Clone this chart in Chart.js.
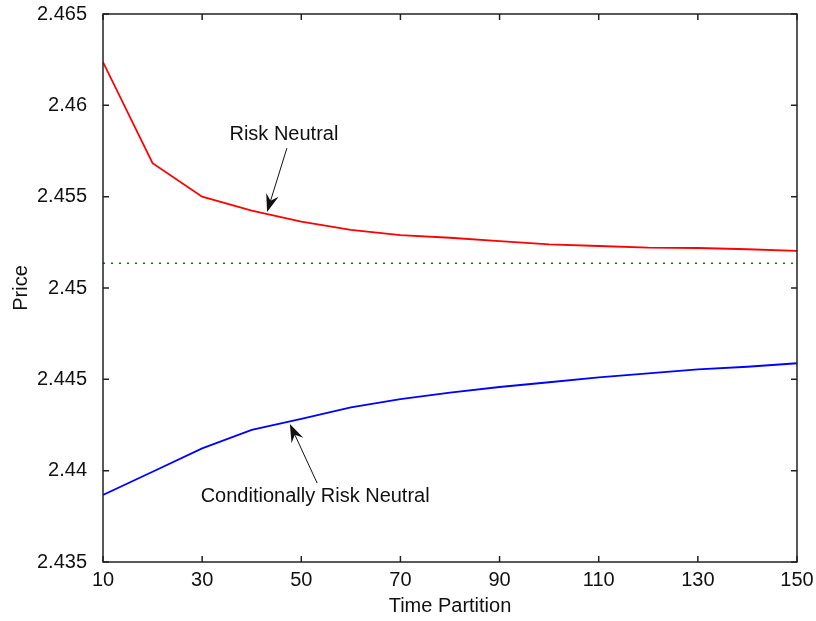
<!DOCTYPE html>
<html>
<head>
<meta charset="utf-8">
<script src="https://cdn.jsdelivr.net/npm/chart.js@4.4.1/dist/chart.umd.min.js"></script>
<style>
  html, body { margin: 0; padding: 0; background: #fff; }
  #box { width: 816px; height: 621px; }
</style>
</head>
<body>
<div id="box"><canvas id="grafico" width="816" height="621"></canvas></div>
<script>
// valores
const particiones = [10, 20, 30, 40, 50, 60, 70, 80, 90, 100, 110, 120, 130, 140, 150];
const riesgoNeutral = [2.46237, 2.45683, 2.45500, 2.45423, 2.45363, 2.45318, 2.45290, 2.45275,
  2.45257, 2.45239, 2.45230, 2.45221, 2.45219, 2.45212, 2.45203];
const condNeutral = [2.43867, 2.43994, 2.44122, 2.44223, 2.44284, 2.44347, 2.44392, 2.44427,
  2.44458, 2.44484, 2.44511, 2.44533, 2.44555, 2.44569, 2.44588];
const precioReferencia = [2.45135, 2.45135];
const xReferencia = [10, 150];

const ticksX = [10, 30, 50, 70, 90, 110, 130, 150];
const ticksY = [2.435, 2.44, 2.445, 2.45, 2.455, 2.46, 2.465];

// anotaciones: texto y flecha en coordenadas de datos
const anotaciones = [
  { texto: "Risk Neutral", tx: 46.5, ty: 2.45838, desde: [47.1, 2.45766], hasta: [43.1, 2.45416] },
  { texto: "Conditionally Risk Neutral", tx: 52.8, ty: 2.43861, desde: [53.2, 2.43932], hasta: [47.7, 2.44255] }
];

const fuente = "'Liberation Sans', Arial, sans-serif";

function flecha(ctx, x1, y1, x2, y2) {
  const ang = Math.atan2(y2 - y1, x2 - x1);
  const largo = 18, ancho = 6.5;
  ctx.beginPath();
  ctx.moveTo(x1, y1);
  ctx.lineTo(x2 - Math.cos(ang) * 10, y2 - Math.sin(ang) * 10);
  ctx.stroke();
  const bx = x2 - Math.cos(ang) * largo, by = y2 - Math.sin(ang) * largo;
  const mx = x2 - Math.cos(ang) * largo * 0.65, my = y2 - Math.sin(ang) * largo * 0.65;
  ctx.beginPath();
  ctx.moveTo(x2, y2);
  ctx.lineTo(bx - Math.sin(ang) * ancho, by + Math.cos(ang) * ancho);
  ctx.lineTo(mx, my);
  ctx.lineTo(bx + Math.sin(ang) * ancho, by - Math.cos(ang) * ancho);
  ctx.closePath();
  ctx.fill();
}

const marcoPlugin = {
  id: "marco",
  afterDraw(chart) {
    const ctx = chart.ctx;
    const a = chart.chartArea;
    const sx = chart.scales.x, sy = chart.scales.y;
    ctx.save();
    ctx.strokeStyle = "#222";
    ctx.lineWidth = 1.5;
    ctx.strokeRect(a.left, a.top, a.right - a.left, a.bottom - a.top);
    ctx.beginPath();
    ticksX.forEach((v) => {
      const px = sx.getPixelForValue(v);
      ctx.moveTo(px, a.bottom); ctx.lineTo(px, a.bottom - 6);
      ctx.moveTo(px, a.top); ctx.lineTo(px, a.top + 6);
    });
    ticksY.forEach((v) => {
      const py = sy.getPixelForValue(v);
      ctx.moveTo(a.left, py); ctx.lineTo(a.left + 6, py);
      ctx.moveTo(a.right, py); ctx.lineTo(a.right - 6, py);
    });
    ctx.stroke();

    ctx.fillStyle = "#111";
    ctx.strokeStyle = "#111";
    ctx.lineWidth = 1;
    ctx.font = "20px " + fuente;
    ctx.textAlign = "center";
    ctx.textBaseline = "middle";
    anotaciones.forEach((n) => {
      ctx.fillText(n.texto, sx.getPixelForValue(n.tx), sy.getPixelForValue(n.ty));
      flecha(ctx,
        sx.getPixelForValue(n.desde[0]), sy.getPixelForValue(n.desde[1]),
        sx.getPixelForValue(n.hasta[0]), sy.getPixelForValue(n.hasta[1]));
    });
    ctx.restore();
  }
};

const aPuntos = (xs, ys) => xs.map((x, i) => ({ x: x, y: ys[i] }));

new Chart(document.querySelector("#grafico"), {
  type: "line",
  data: {
    datasets: [
      {
        label: "Risk Neutral",
        data: aPuntos(particiones, riesgoNeutral),
        borderColor: "#ff0000",
        borderWidth: 1.8,
        pointRadius: 0,
        tension: 0
      },
      {
        label: "Conditionally Risk Neutral",
        data: aPuntos(particiones, condNeutral),
        borderColor: "#0000ff",
        borderWidth: 1.8,
        pointRadius: 0,
        tension: 0
      },
      {
        label: "Referencia",
        data: aPuntos(xReferencia, precioReferencia),
        borderColor: "#008000",
        borderWidth: 1.5,
        borderDash: [2, 6],
        pointRadius: 0
      }
    ]
  },
  options: {
    responsive: false,
    animation: false,
    layout: { padding: { top: 14, right: 19, left: 0, bottom: 0 } },
    plugins: { legend: { display: false }, tooltip: { enabled: false } },
    scales: {
      x: {
        type: "linear",
        min: 10,
        max: 150,
        afterFit(s) { s.height = 59; s.paddingLeft = 0; s.paddingRight = 0; },
        afterBuildTicks(s) { s.ticks = ticksX.map((v) => ({ value: v })); },
        grid: { display: false },
        border: { display: false },
        ticks: { color: "#111", padding: -2, maxRotation: 0, font: { size: 20, family: fuente } },
        title: { display: true, text: "Time Partition", color: "#111", padding: { top: 0, bottom: 3 }, font: { size: 20, family: fuente } }
      },
      y: {
        type: "linear",
        min: 2.435,
        max: 2.465,
        afterFit(s) { s.width = 103; s.paddingTop = 0; s.paddingBottom = 0; },
        afterBuildTicks(s) { s.ticks = ticksY.map((v) => ({ value: v })); },
        grid: { display: false },
        border: { display: false },
        ticks: {
          color: "#111",
          padding: 8,
          font: { size: 20, family: fuente },
          callback: (v) => String(Number(v.toFixed(3)))
        },
        title: { display: true, text: "Price", color: "#111", padding: { top: 9, bottom: 0 }, font: { size: 20, family: fuente } }
      }
    }
  },
  plugins: [marcoPlugin]
});
</script>
</body>
</html>
